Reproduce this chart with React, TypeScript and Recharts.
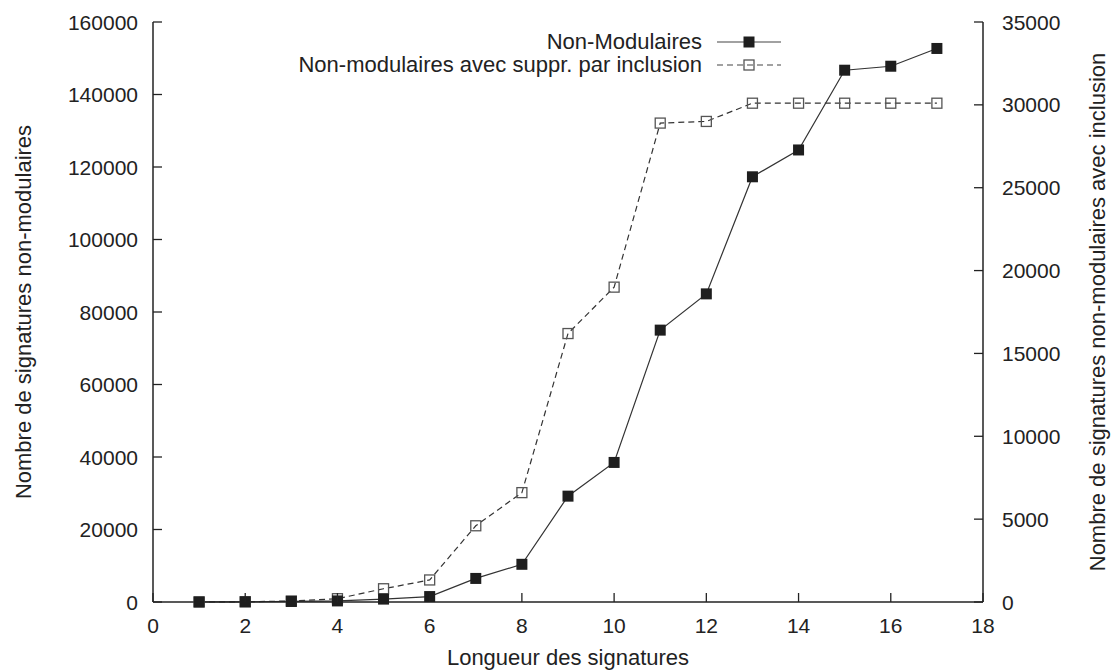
import React from "react";
import { ComposedChart, Line, XAxis, YAxis } from "recharts";

const lengths = [1, 2, 3, 4, 5, 6, 7, 8, 9, 10, 11, 12, 13, 14, 15, 16, 17];
const nonModulaires = [10, 50, 150, 300, 800, 1500, 6500, 10400, 29200, 38500, 75000, 85000, 117300, 124700, 146700, 147800, 152700];
const avecInclusion = [5, 15, 60, 200, 800, 1330, 4600, 6600, 16200, 19000, 28900, 29000, 30100, 30100, 30100, 30100, 30100];

const xTicks = [0, 2, 4, 6, 8, 10, 12, 14, 16, 18];
const leftTicks = [0, 20000, 40000, 60000, 80000, 100000, 120000, 140000, 160000];
const rightTicks = [0, 5000, 10000, 15000, 20000, 25000, 30000, 35000];

const seriesNames = ["Non-Modulaires", "Non-modulaires avec suppr. par inclusion"];
const xTitle = "Longueur des signatures";
const leftTitle = "Nombre de signatures non-modulaires";
const rightTitle = "Nombre de signatures non-modulaires avec inclusion";

const data = lengths.map((l, i) => ({ len: l, nm: nonModulaires[i], inc: avecInclusion[i] }));

const FONT = "'Liberation Sans', Arial, Helvetica, sans-serif";
const TEXT = "#222";
const FS = 21;
const FS2 = 22;
const TICK = 9;

const BottomTick = (p: any) => (
  <g>
    <line x1={p.x} x2={p.x} y1={p.y} y2={p.y - TICK} stroke="#222" strokeWidth={1.3} />
    <text x={p.x} y={p.y + 31} textAnchor="middle" fontFamily={FONT} fontSize={FS} fill={TEXT}>
      {p.payload.value}
    </text>
  </g>
);
const TopTick = (p: any) => (
  <line x1={p.x} x2={p.x} y1={p.y} y2={p.y + TICK} stroke="#222" strokeWidth={1.3} />
);
const LeftTick = (p: any) => (
  <g>
    <line x1={p.x} x2={p.x + TICK} y1={p.y} y2={p.y} stroke="#222" strokeWidth={1.3} />
    <text x={p.x - 15} y={p.y + 7.5} textAnchor="end" fontFamily={FONT} fontSize={FS} fill={TEXT}>
      {p.payload.value}
    </text>
  </g>
);
const RightTick = (p: any) => (
  <g>
    <line x1={p.x} x2={p.x - TICK} y1={p.y} y2={p.y} stroke="#222" strokeWidth={1.3} />
    <text x={p.x + 19} y={p.y + 7.5} textAnchor="start" fontFamily={FONT} fontSize={FS} fill={TEXT}>
      {p.payload.value}
    </text>
  </g>
);

const XTitle = (p: any) => {
  const vb = p.viewBox;
  return (
    <text x={vb.x + vb.width / 2} y={vb.y + 63} textAnchor="middle" fontFamily={FONT} fontSize={FS2} fill={TEXT}>
      {xTitle}
    </text>
  );
};
const LeftTitle = (p: any) => {
  const vb = p.viewBox;
  const cx = vb.x - 30;
  const cy = vb.y + vb.height / 2;
  return (
    <text x={cx} y={cy} transform={`rotate(-90 ${cx} ${cy})`} dy="0.35em" textAnchor="middle" fontFamily={FONT} fontSize={FS2} fill={TEXT}>
      {leftTitle}
    </text>
  );
};
const RightTitle = (p: any) => {
  const vb = p.viewBox;
  const cx = vb.x + 114;
  const cy = vb.y + vb.height / 2;
  return (
    <text x={cx} y={cy} transform={`rotate(-90 ${cx} ${cy})`} dy="0.35em" textAnchor="middle" fontFamily={FONT} fontSize={FS2} fill={TEXT}>
      {rightTitle}
    </text>
  );
};

const FilledDot = (p: any) =>
  p.cx == null ? null : <rect key={p.index} x={p.cx - 5.5} y={p.cy - 5.5} width={11} height={11} fill="#1e1e1e" />;
const OpenDot = (p: any) =>
  p.cx == null ? null : (
    <rect key={p.index} x={p.cx - 5} y={p.cy - 5} width={10} height={10} fill="none" stroke="#555" strokeWidth={1.3} />
  );

const LegendBox = () => (
  <div style={{ position: "absolute", top: 30, right: 333, fontFamily: FONT, fontSize: FS2, color: TEXT, lineHeight: "23px" }}>
    {seriesNames.map((n, i) => (
      <div key={n} style={{ display: "flex", alignItems: "center", justifyContent: "flex-end", height: 23 }}>
        <span style={{ whiteSpace: "nowrap" }}>{n}</span>
        <svg width={64} height={14} style={{ marginLeft: 15, display: "block" }}>
          {i === 0 ? (
            <>
              <line x1={0} x2={64} y1={7} y2={7} stroke="#444" strokeWidth={1.2} />
              <rect x={26.5} y={1.5} width={11} height={11} fill="#1e1e1e" />
            </>
          ) : (
            <>
              <line x1={0} x2={64} y1={7} y2={7} stroke="#444" strokeWidth={1.2} strokeDasharray="6 4" />
              <rect x={27} y={2} width={10} height={10} fill="none" stroke="#555" strokeWidth={1.3} />
            </>
          )}
        </svg>
      </div>
    ))}
  </div>
);

export default function App() {
  return (
    <div style={{ width: 1114, height: 670, position: "relative", overflow: "hidden", background: "#fff" }}>
      <style>{"html,body{margin:0;padding:0;overflow:hidden;}"}</style>
      <ComposedChart
        width={1114}
        height={670}
        data={data}
        margin={{ top: 22, right: 31, bottom: 8, left: 53 }}
      >
        <XAxis
          xAxisId="b"
          dataKey="len"
          type="number"
          domain={[0, 18]}
          ticks={xTicks}
          tickLine={false}
          tickSize={0}
          tickMargin={0}
          tick={<BottomTick />}
          axisLine={{ stroke: "#222", strokeWidth: 1.5 }}
          height={60}
          interval={0}
          label={<XTitle />}
        />
        <XAxis
          xAxisId="t"
          orientation="top"
          dataKey="len"
          type="number"
          domain={[0, 18]}
          ticks={xTicks}
          tickLine={false}
          tickSize={0}
          tickMargin={0}
          tick={<TopTick />}
          axisLine={{ stroke: "#222", strokeWidth: 1.5 }}
          height={0}
          interval={0}
        />
        <YAxis
          yAxisId="l"
          domain={[0, 160000]}
          ticks={leftTicks}
          tickLine={false}
          tickSize={0}
          tickMargin={0}
          tick={<LeftTick />}
          axisLine={{ stroke: "#222", strokeWidth: 1.5 }}
          width={100}
          interval={0}
          label={<LeftTitle />}
        />
        <YAxis
          yAxisId="r"
          orientation="right"
          domain={[0, 35000]}
          ticks={rightTicks}
          tickLine={false}
          tickSize={0}
          tickMargin={0}
          tick={<RightTick />}
          axisLine={{ stroke: "#222", strokeWidth: 1.5 }}
          width={100}
          interval={0}
          label={<RightTitle />}
        />
        <Line
          xAxisId="t"
          yAxisId="l"
          dataKey="nm"
          stroke="none"
          dot={false}
          activeDot={false}
          legendType="none"
          isAnimationActive={false}
        />
        <Line
          xAxisId="b"
          yAxisId="r"
          dataKey="inc"
          type="linear"
          stroke="#333"
          strokeWidth={1.2}
          strokeDasharray="6 4"
          dot={<OpenDot />}
          activeDot={false}
          isAnimationActive={false}
        />
        <Line
          xAxisId="b"
          yAxisId="l"
          dataKey="nm"
          type="linear"
          stroke="#333"
          strokeWidth={1.2}
          dot={<FilledDot />}
          activeDot={false}
          isAnimationActive={false}
        />
      </ComposedChart>
      <LegendBox />
    </div>
  );
}
